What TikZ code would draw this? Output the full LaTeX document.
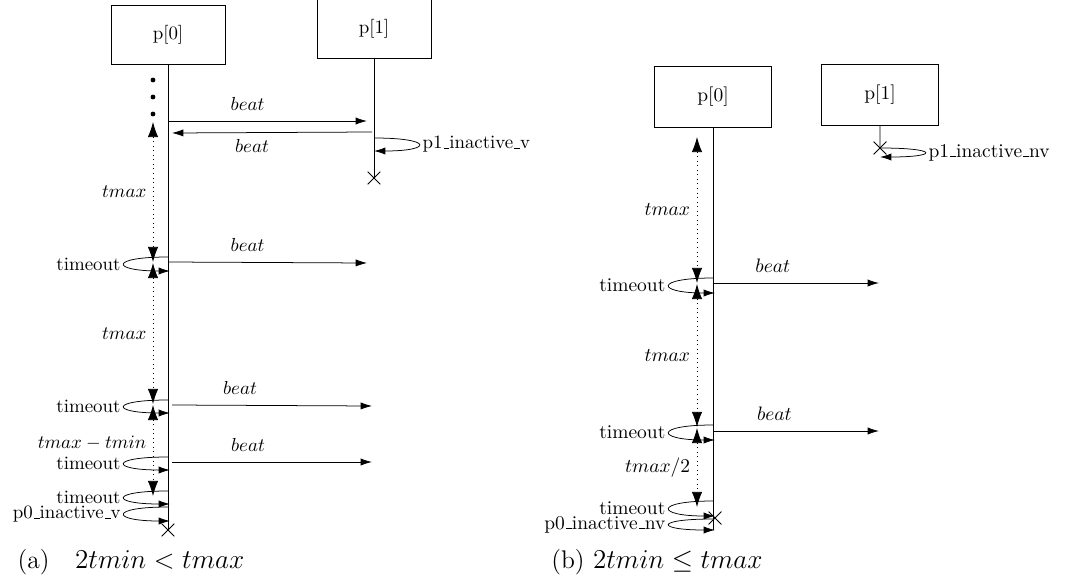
\documentclass[tikz,border=0pt]{standalone}
\usepackage{amsmath}
\usepackage{amssymb}
\usepackage{tikz}
\usetikzlibrary{shapes,arrows,arrows.meta,positioning,calc}

\newcommand{\usc}{\leavevmode\kern.06em\vbox{\hrule width.3em}}

\begin{document}
\begin{tikzpicture}[x=0.0186cm, y=-0.0186cm,
        proc/.style={rectangle, draw, minimum width=2.12cm, minimum height=1.09cm},
        msg/.style={-{Latex[length=6pt,width=3.8pt]}},
        tspan/.style={dotted, {Latex[length=8pt,width=5.5pt]}-{Latex[length=8pt,width=5.5pt]}},
        tloop/.style={msg, out=180, in=180, distance=1.1cm},
        rloop/.style={msg, out=0, in=0, distance=1.1cm},
        lbl/.style={inner xsep=2pt, inner ysep=0pt},
        killed/.style={cross out, draw, minimum size=0.22cm, inner sep=0pt},
        pdot/.style={circle, fill, inner sep=0pt, minimum size=0.09cm},
        caption/.style={font=\fontsize{13.5}{16}\selectfont}]
        \useasboundingbox (0,0) rectangle (1071,580);

        % (a)
        \node (p0a) [proc] at (168,35) {p[0]};
        \node (p1a) [proc] at (374,29) {p[1]};
        \node (x0a) [killed] at (168,530) {};
        \node (x1a) [killed] at (374,178) {};
        \draw (p0a) -- (x0a.center);
        \draw (p1a) -- (x1a.center);

        \foreach \y [count=\i] in {80,97,114}
            \node (dota\i) [pdot] at (153,\y) {};

        \coordinate (b1s) at (168,121); \coordinate (b1e) at (367,121);
        \coordinate (b2s) at (372,132); \coordinate (b2e) at (172,133);
        \coordinate (b3s) at (168,262); \coordinate (b3e) at (367,263);
        \coordinate (b4s) at (172,405); \coordinate (b4e) at (372,406);
        \coordinate (b5s) at (172,462); \coordinate (b5e) at (372,462);
        \draw[msg] (b1s) -- node[above=2pt, pos=0.4] {$beat$} (b1e);
        \draw[msg] (b2s) -- node[below, pos=0.6] {$beat$} (b2e);
        \draw[msg] (b3s) -- node[above=2pt, pos=0.4] {$beat$} (b3e);
        \draw[msg] (b4s) -- node[above=2pt, pos=0.34] {$beat$} (b4e);
        \draw[msg] (b5s) -- node[above=2pt, pos=0.38] {$beat$} (b5e);

        \coordinate (i1s) at (374,138); \coordinate (i1e) at (374,151);
        \draw[rloop] (i1s) to node[right, lbl] {p1\usc inactive\usc v} (i1e);

        % timeouts
        \coordinate (ta1s) at (168,257); \coordinate (ta1e) at (170,271);
        \coordinate (ta2s) at (168,400); \coordinate (ta2e) at (170,413);
        \coordinate (ta3s) at (168,457); \coordinate (ta3e) at (170,470);
        \coordinate (ta4s) at (168,491); \coordinate (ta4e) at (170,504);
        \coordinate (ia0s) at (168,507); \coordinate (ia0e) at (170,521);
        \draw[tloop] (ta1s) to node[left, lbl] {timeout} (ta1e);
        \draw[tloop] (ta2s) to node[left, lbl] {timeout} (ta2e);
        \draw[tloop] (ta3s) to node[left, lbl] {timeout} (ta3e);
        \draw[tloop] (ta4s) to node[left, lbl] {timeout} (ta4e);
        \draw[tloop] (ia0s) to node[left, lbl] {p0\usc inactive\usc v} (ia0e);

        \coordinate (ma0) at (153,122); \coordinate (ma1) at (153,262);
        \coordinate (ma2) at (153,263); \coordinate (ma3) at (153,404);
        \coordinate (ma4) at (153,405); \coordinate (ma5) at (153,496);
        \draw[tspan] (ma0) -- node[left] {$tmax$} (ma1);
        \draw[tspan] (ma2) -- node[left] {$tmax$} (ma3);
        \draw[tspan] (ma4) -- node[left, pos=0.42] {$tmax - tmin$} (ma5);

        \node (capa) [caption] at (131,562) {(a)\quad$2tmin < tmax$};

        % (b)
        \begin{scope}[every node/.append style={scale=1.03}]
        \node (p0b) [proc] at (713,97) {p[0]};
        \node (p1b) [proc] at (880,95) {p[1]};
        \coordinate (endb) at (713,530);
        \node (x0b) [killed] at (715,518) {};
        \node (x1b) [killed] at (880,148) {};
        \draw (p0b) -- (endb);
        \draw (p1b) -- (x1b.center);

        \coordinate (i2s) at (880,148); \coordinate (i2e) at (880,157);
        \draw[rloop] (i2s) to node[right, lbl] {p1\usc inactive\usc nv} (i2e);

        \coordinate (b6s) at (713,283); \coordinate (b6e) at (879,283);
        \coordinate (b7s) at (713,431); \coordinate (b7e) at (879,431);
        \draw[msg] (b6s) -- node[above=2pt, pos=0.36] {$beat$} (b6e);
        \draw[msg] (b7s) -- node[above=2pt, pos=0.37] {$beat$} (b7e);

        \coordinate (tb1s) at (713,278); \coordinate (tb1e) at (715,293);
        \coordinate (tb2s) at (713,425); \coordinate (tb2e) at (715,440);
        \coordinate (tb3s) at (713,501); \coordinate (tb3e) at (715,516);
        \coordinate (ib0s) at (713,519); \coordinate (ib0e) at (715,530);
        \draw[tloop] (tb1s) to node[left, lbl] {timeout} (tb1e);
        \draw[tloop] (tb2s) to node[left, lbl] {timeout} (tb2e);
        \draw[tloop] (tb3s) to node[left, lbl] {timeout} (tb3e);
        \draw[tloop] (ib0s) to node[left, lbl] {p0\usc inactive\usc nv} (ib0e);

        \coordinate (mb0) at (697,137); \coordinate (mb1) at (697,283);
        \coordinate (mb2) at (697,284); \coordinate (mb3) at (697,427);
        \coordinate (mb4) at (697,428); \coordinate (mb5) at (697,507);
        \draw[tspan] (mb0) -- node[left] {$tmax$} (mb1);
        \draw[tspan] (mb2) -- node[left] {$tmax$} (mb3);
        \draw[tspan] (mb4) -- node[left] {$tmax/2$} (mb5);
        \end{scope}

        \node (capb) [caption] at (657,562) {(b) $2tmin \leq tmax$};
    \end{tikzpicture}
\end{document}
